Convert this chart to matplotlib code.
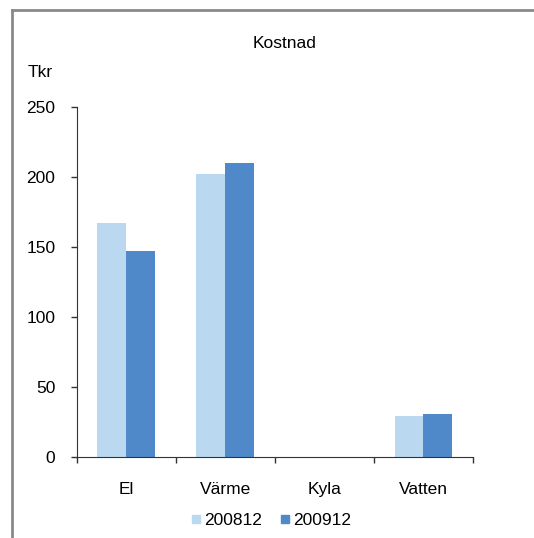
import numpy as np
import matplotlib.pyplot as plt
from matplotlib.lines import Line2D

plt.rcParams["font.family"] = ["Liberation Sans", "DejaVu Sans"]

categories = ["El", "Värme", "Kyla", "Vatten"]
series_names = ["200812", "200912"]
values_2008 = [167, 202, 0, 29]
values_2009 = [147, 210, 0, 31]
colors = ["#BAD9F1", "#4F89C9"]

fs = 12.5
fig = plt.figure(figsize=(5.34, 5.38), dpi=100)
ax = fig.add_axes([0.1433, 0.1506, 0.7425, 0.6506])

x = np.arange(len(categories))
w = 0.29
ax.bar(x - w / 2, values_2008, w, color=colors[0], label=series_names[0])
ax.bar(x + w / 2, values_2009, w, color=colors[1], label=series_names[1])

ax.set_xlim(-0.5, len(categories) - 0.5)
ax.set_ylim(0, 250)
ax.set_yticks(np.arange(0, 251, 50))
ax.set_xticks(x)
ax.set_xticklabels(categories, fontsize=fs)
ax.set_xticks(np.arange(-0.5, len(categories)), minor=True)
ax.tick_params(axis="x", which="major", length=0, pad=18)
ax.tick_params(axis="x", which="minor", length=4.3, width=1, color="#333333")
ax.tick_params(axis="y", length=4.3, width=1, color="#333333", labelsize=fs, pad=11)
ax.spines["top"].set_visible(False)
ax.spines["right"].set_visible(False)
ax.spines["left"].set_color("#333333")
ax.spines["bottom"].set_color("#333333")

fig.text(0.532, 0.92, "Kostnad", ha="center", va="center", fontsize=fs)
fig.text(0.052, 0.866, "Tkr", ha="left", va="center", fontsize=fs)

handles = [Line2D([], [], marker="s", linestyle="none", markersize=5.2,
                  markerfacecolor=c, markeredgecolor=c) for c in colors]
fig.legend(handles, series_names, loc="center", bbox_to_anchor=(0.508, 0.032),
           ncol=2, frameon=False, fontsize=fs, handletextpad=0.2,
           columnspacing=1.1, handlelength=0.5)

# outer chart border (top and left edges visible)
fig.add_artist(Line2D([0.0225, 1.0], [0.981, 0.981], color="#8a8a8a", lw=2))
fig.add_artist(Line2D([0.0225, 0.0225], [0.0, 0.981], color="#8a8a8a", lw=2))

fig.savefig("out.png", dpi=100)
